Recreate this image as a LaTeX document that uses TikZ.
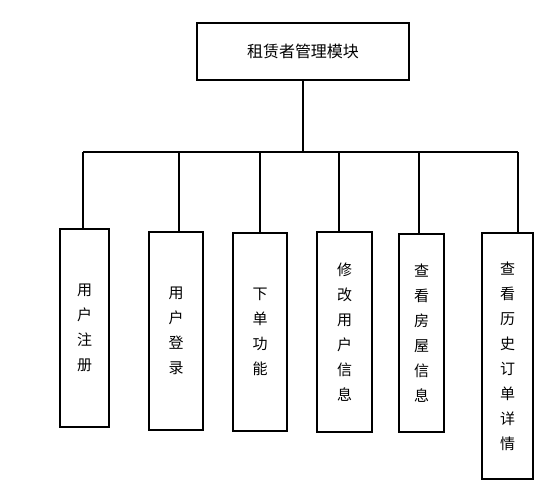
\documentclass[tikz,border=0pt]{standalone}
\usepackage{fontspec}
\setmainfont{Noto Sans CJK SC}
\tikzset{
  modbox/.style={draw=black, line width=1.3pt, inner sep=0pt, align=center,
    font={\fontsize{15pt}{25pt}\selectfont}},
  link/.style={black, line width=1.3pt}
}
\begin{document}
\begin{tikzpicture}[x=1pt,y=-1pt]
	\useasboundingbox (0,0) rectangle (550,488);
	\node[modbox, minimum width=212pt, minimum height=57pt, font={\fontsize{16pt}{20pt}\selectfont}] (top) at (303,51.5) {租赁者管理模块};
	
	\node[modbox, minimum width=49pt, minimum height=198pt] (reg) at (84.5,328) {用\\户\\注\\册};
	\node[modbox, minimum width=54pt, minimum height=198pt] (login) at (176,331) {用\\户\\登\\录};
	\node[modbox, minimum width=54pt, minimum height=198pt] (order) at (260,332) {下\\单\\功\\能};
	\node[modbox, minimum width=55pt, minimum height=200pt] (modify) at (344.5,332) {修\\改\\用\\户\\信\\息};
	\node[modbox, minimum width=45pt, minimum height=198pt] (house) at (421.5,333) {查\\看\\房\\屋\\信\\息};
	\node[modbox, minimum width=51pt, minimum height=246pt] (history) at (507.5,356) {查\\看\\历\\史\\订\\单\\详\\情};
	
	% bus
	\coordinate (busL) at (83,152);
	\coordinate (busR) at (518,152);
	\coordinate (tapLogin) at (179,152);
	\coordinate (tapModify) at (339,152);
	\coordinate (tapHouse) at (419,152);
	\draw[link] (top.south) -- (top.south |- busL);
	\draw[link] (busL) -- (busR);
	
	\draw[link] (busL) -- (busL |- reg.north);
	\draw[link] (tapLogin) -- (tapLogin |- login.north);
	\draw[link] (order.north |- busL) -- (order.north);
	\draw[link] (tapModify) -- (tapModify |- modify.north);
	\draw[link] (tapHouse) -- (tapHouse |- house.north);
	\draw[link] (busR) -- (busR |- history.north);
\end{tikzpicture}
\end{document}
